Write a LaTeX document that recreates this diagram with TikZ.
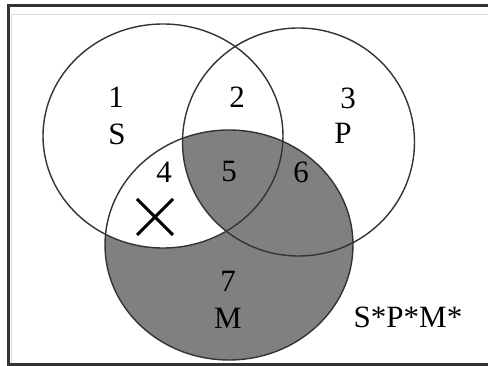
\documentclass[tikz,border=0pt]{standalone}
\usepackage{fontspec}
\setmainfont{Liberation Serif}
\begin{document}
\begin{tikzpicture}[x=1pt,y=-1pt,
  outline/.style={draw=black!80,line width=1.4pt},
  shade/.style={fill=black!50},
  lbl/.style={inner sep=0pt,font=\fontsize{31}{31}\selectfont}]
\useasboundingbox (0,0) rectangle (488,366);
\begin{scope}
\clip (0,0) rectangle (488,366);
% frame
\draw[black!15,line width=0.8pt] (11,366) -- (11,14) -- (488,14);
\draw[black!80,line width=2.6pt] (488,5.3) -- (8.6,5.3) -- (8.6,364.8) -- (488,364.8);
% shading
\fill[shade] (229,245) ellipse [x radius=124pt,y radius=115pt];
\begin{scope}
\clip (163,136) ellipse [x radius=120pt,y radius=112pt];
\fill[white] (229,245) ellipse [x radius=124pt,y radius=115pt];
\clip (298.5,142) ellipse [x radius=116pt,y radius=114pt];
\fill[shade] (229,245) ellipse [x radius=124pt,y radius=115pt];
\end{scope}
% circles
\draw[outline] (163,136) ellipse [x radius=120pt,y radius=112pt];
\draw[outline] (298.5,142) ellipse [x radius=116pt,y radius=114pt];
\draw[outline] (229,245) ellipse [x radius=124pt,y radius=115pt];
\end{scope}
% labels
\node[lbl] (n1) at (116,97) {1};
\node[lbl] (nS) at (117,134) {S};
\node[lbl] (n2) at (237,97) {2};
\node[lbl] (n3) at (348,98) {3};
\node[lbl] (nP) at (343,133) {P};
\node[lbl] (n4) at (164,172) {4};
\node[lbl] (n5) at (229,172) {5};
\node[lbl] (n6) at (301,172) {6};
\node[lbl] (n7) at (228,281) {7};
\node[lbl] (nM) at (228,318) {M};
\node[lbl] (nt) at (408,317) {S*P*M*};
% cross
\coordinate (xa) at (137,199);
\coordinate (xb) at (173,235);
\coordinate (xc) at (137,235);
\coordinate (xd) at (173,199);
\draw[black,line width=3pt] (xa) -- (xb);
\draw[black,line width=3pt] (xc) -- (xd);
\end{tikzpicture}
\end{document}
